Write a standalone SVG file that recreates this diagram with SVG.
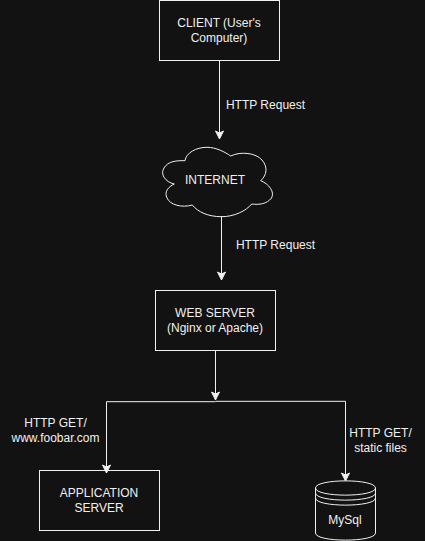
<svg xmlns="http://www.w3.org/2000/svg" width="425" height="541" viewBox="0 0 425 541">
<style>
.n{fill:#121212;stroke:#f0f0f0;stroke-width:1}
.c{fill:none;stroke:#f0f0f0;stroke-width:1}
text{font-family:"Liberation Sans",Arial,sans-serif;font-size:12px;fill:#f0f0f0;text-anchor:middle}
</style>
<defs><marker id="a" markerUnits="userSpaceOnUse" markerWidth="12" markerHeight="12" refX="9" refY="5" orient="auto"><path d="M1 1L9 5L1 9L3 5Z" fill="#f0f0f0" stroke="#f0f0f0" stroke-width="1"/></marker></defs>
<rect width="425" height="541" fill="#121212"/>
<g id="client"><rect class="n" x="159.500" y="0.500" width="120" height="60"/><text x="219" y="27">CLIENT (User's</text><text x="219" y="42">Computer)</text></g>
<g id="internet"><path class="n" d="M185 160.700C186 153 196 147.300 207 147.300C216 147.300 225 152 230.700 156C241 151 256 153 262 160C268 167 267 175 260.700 180.700C269 184 275 192 271.500 198C267 204 259 205 251.700 204C246 211 234 216.700 221.700 216.700C208 216.700 198 212 192.300 205C182 208 170 205 167 198C164 192 168 187 174.300 184C165 182 160 174 164 168C168 161 177 160.500 185 160.700Z"/><text x="215" y="184">INTERNET</text></g>
<g id="web-server"><rect class="n" x="155.500" y="290.500" width="120" height="60"/><text x="215" y="317">WEB SERVER</text><text x="215" y="332">(Nginx or Apache)</text></g>
<g id="application-server"><rect class="n" x="39.500" y="470.500" width="120" height="60"/><text x="99" y="497">APPLICATION</text><text x="99" y="512">SERVER</text></g>
<g id="mysql"><path class="n" d="M315.500 488C315.500 478.500 375.500 478.500 375.500 488V533C375.500 542.500 315.500 542.500 315.500 533Z"/><path class="c" d="M315.500 488C315.500 497.500 375.500 497.500 375.500 488M315.500 493C315.500 502.500 375.500 502.500 375.500 493M315.500 498C315.500 507.500 375.500 507.500 375.500 498"/><text x="345" y="524">MySql</text></g>
<g id="connectors">
<path class="c" d="M219.500 61V139" marker-end="url(#a)"/>
<path class="c" d="M221.500 216V280" marker-end="url(#a)"/>
<path class="c" d="M215.500 351V400" marker-end="url(#a)"/>
<path class="c" d="M215.500 401.700H106.500V473" marker-end="url(#a)"/>
<path class="c" d="M215.500 401.300H345.500V481" marker-end="url(#a)"/>
<text x="265.500" y="109">HTTP Request</text>
<text x="275.500" y="249">HTTP Request</text>
<text x="55.500" y="427">HTTP GET/</text>
<text x="55.500" y="442">www.foobar.com</text>
<text x="380.500" y="437">HTTP GET/</text>
<text x="380.500" y="452">static files</text>
</g>
</svg>
